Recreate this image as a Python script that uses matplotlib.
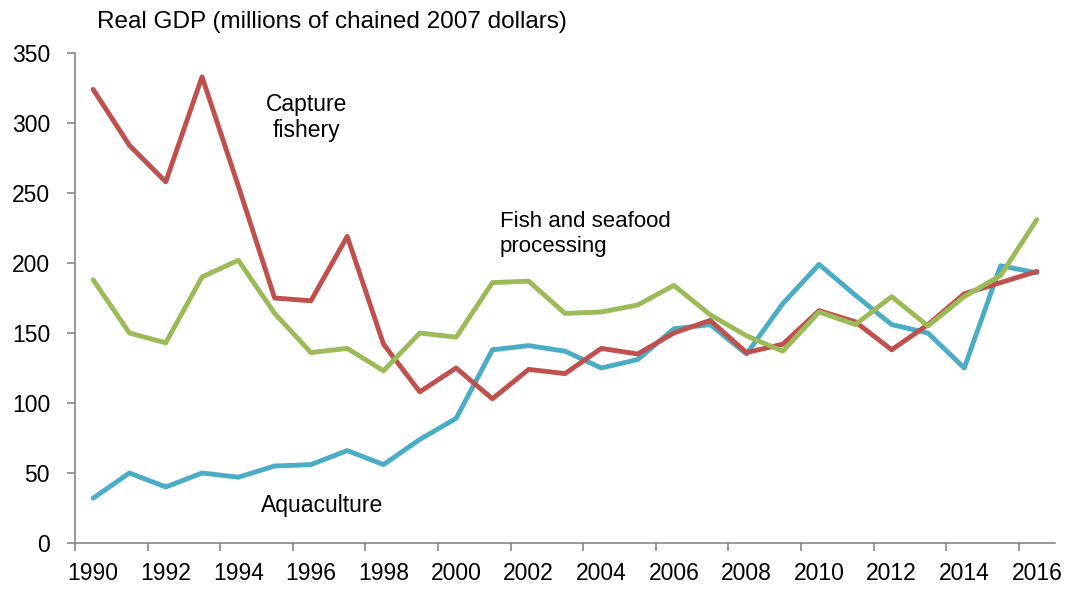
import matplotlib
matplotlib.use("Agg")
import matplotlib.pyplot as plt
import numpy as np

plt.rcParams['font.family'] = ['Liberation Sans', 'DejaVu Sans']

years = list(range(1990, 2017))
capture_fishery = [324, 284, 258, 333, 255, 175, 173, 219, 142, 108, 125, 103, 124, 121,
                   139, 135, 150, 159, 136, 142, 166, 158, 138, 156, 178, 186, 194]
aquaculture = [32, 50, 40, 50, 47, 55, 56, 66, 56, 74, 89, 138, 141, 137,
               125, 131, 153, 156, 135, 171, 199, 177, 156, 150, 125, 198, 193]
processing = [188, 150, 143, 190, 202, 164, 136, 139, 123, 150, 147, 186, 187, 164,
              165, 170, 184, 163, 148, 137, 165, 156, 176, 155, 176, 191, 231]

series_colors = {"capture": "#C0504D", "aqua": "#4BACC6", "proc": "#9BBB59"}
axis_gray = "#868686"

fig = plt.figure(figsize=(10.68, 5.93), dpi=100)
ax = fig.add_axes([75 / 1068, 1 - 543 / 593, 980 / 1068, 490 / 593])

x = np.arange(len(years))
lw = 3.5
ax.plot(x, capture_fishery, color=series_colors["capture"], lw=lw, solid_joinstyle="round",
        solid_capstyle="round", zorder=3)
ax.plot(x, aquaculture, color=series_colors["aqua"], lw=lw, solid_joinstyle="round",
        solid_capstyle="round", zorder=2)
ax.plot(x, processing, color=series_colors["proc"], lw=lw, solid_joinstyle="round",
        solid_capstyle="round", zorder=4)

ax.set_xlim(-0.5, len(years) - 0.5)
ax.set_ylim(0, 350)

# y axis
ax.set_yticks(np.arange(0, 351, 50))
ax.tick_params(axis="y", direction="out", length=6, width=1.2, color=axis_gray,
               labelsize=16.5, pad=12, labelcolor="black")

# x axis: tick marks on category boundaries, labels on category centres
ax.set_xticks(np.arange(-0.5, len(years), 2))
ax.set_xticklabels([])
ax.set_xticks(x[::2], minor=True)
ax.set_xticklabels([str(y) for y in years[::2]], minor=True)
ax.tick_params(axis="x", which="major", direction="out", length=6, width=1.2, color=axis_gray)
ax.tick_params(axis="x", which="minor", length=0, labelsize=16.5, pad=14, labelcolor="black")

for side in ("top", "right"):
    ax.spines[side].set_visible(False)
for side in ("left", "bottom"):
    ax.spines[side].set_color(axis_gray)
    ax.spines[side].set_linewidth(1.2)

ax.text(5.89, 304, "Capture\nfishery", ha="center", va="center", fontsize=16.5,
        linespacing=1.2)
ax.text(11.2, 221, "Fish and seafood\nprocessing", ha="left", va="center", fontsize=16,
        linespacing=1.25)
ax.text(6.3, 27, "Aquaculture", ha="center", va="center", fontsize=16.5)

fig.text(97 / 1068, 1 - 22 / 593, "Real GDP (millions of chained 2007 dollars)",
         ha="left", va="center", fontsize=17.5)

fig.savefig("out.png", dpi=100)
